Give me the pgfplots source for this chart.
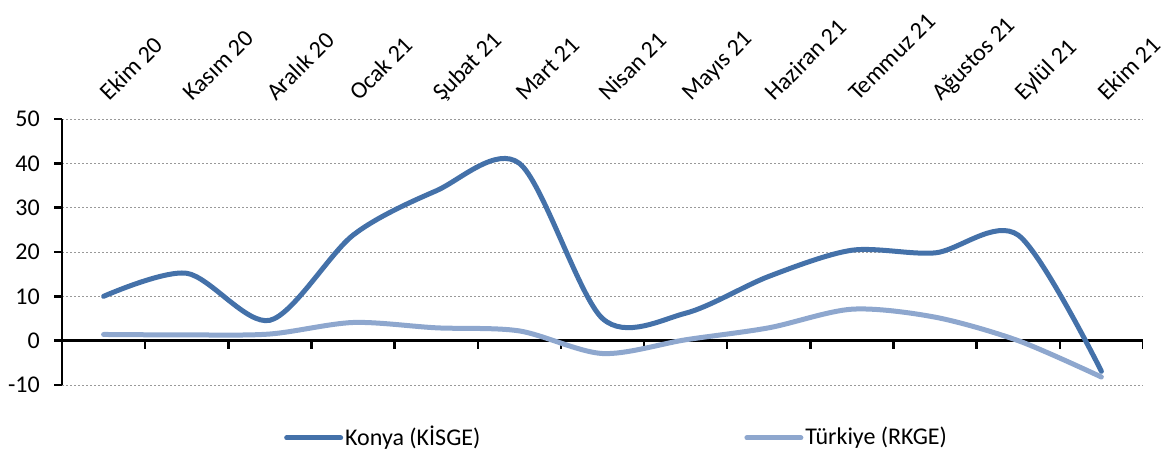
\documentclass[border=0pt]{standalone}
\usepackage{pgfplots}
\pgfplotsset{compat=1.18}
\usepackage{fontspec}
\setmainfont{Carlito}
\definecolor{konya}{HTML}{4471A9}
\definecolor{turkiye}{HTML}{8EA7CE}
\newcommand{\chartfont}{\fontsize{24}{28}\selectfont}
\begin{document}
\chartfont
\begin{tikzpicture}
\path[use as bounding box] (0,0) rectangle (1165pt,453pt);
\begin{axis}[
  at={(62pt,68pt)}, anchor=south west,
  scale only axis, width=1081pt, height=266pt,
  xmin=-0.5, xmax=12.5, ymin=-10, ymax=50,
  axis y line*=left, axis x line*=top,
  x axis line style={draw=none},
  y axis line style={line width=2.5pt, black},
  tick align=outside,
  major tick length=8pt,
  ytick={-10,0,...,50},
  y tick style={line width=2.5pt, black},
  xtick={0,...,12},
  x tick style={draw=none},
  xticklabels={Ekim 20, Kasım 20, Aralık 20, Ocak 21, Şubat 21, Mart 21, Nisan 21, Mayıs 21, Haziran 21, Temmuz 21, Ağustos 21, Eylül 21, Ekim 21},
  xticklabel style={xshift=6pt, yshift=9pt, rotate=45, anchor=base west, inner sep=0pt},
  yticklabel style={inner sep=0pt, xshift=-14pt},
  tick label style={font=\chartfont},
  /pgf/number format/assume math mode=true,
  ymajorgrids,
  grid style={dash pattern=on 2pt off 2pt, line width=1pt, color=black!40},
  legend style={at={(0.513,-0.199)}, anchor=center, draw=none, fill=none,
    legend columns=2, font=\chartfont,
    /tikz/every even column/.append style={column sep=262pt}},
  legend image code/.code={\draw[#1, line width=5pt, line cap=round] (2pt,0pt) -- (56pt,0pt);},
  legend cell align=left,
]
\draw[line width=2.5pt, black] (axis cs:-0.5,0) -- (axis cs:12.5,0);
\pgfplotsinvokeforeach{0.5,1.5,...,12.5}{
  \draw[line width=2.5pt, black] (axis cs:#1,0) -- ([yshift=-8pt]axis cs:#1,0);
}
\addplot[konya, line width=5pt, line cap=round, smooth] coordinates {
(0,10) (1,15.2) (2,4.6) (3,23.8) (4,33.8) (5,40) (6,5) (7,6.2) (8,14.5) (9,20.4) (10,19.8) (11,23.8) (12,-6.9)
};
\addlegendentry{Konya (KİSGE)}
\addplot[turkiye, line width=5pt, line cap=round, smooth] coordinates {
(0,1.4) (1,1.3) (2,1.5) (3,4.1) (4,2.9) (5,2.2) (6,-2.9) (7,0.2) (8,2.9) (9,7.1) (10,5.3) (11,0) (12,-8.2)
};
\addlegendentry{Türkiye (RKGE)}
\end{axis}
\end{tikzpicture}
\end{document}
